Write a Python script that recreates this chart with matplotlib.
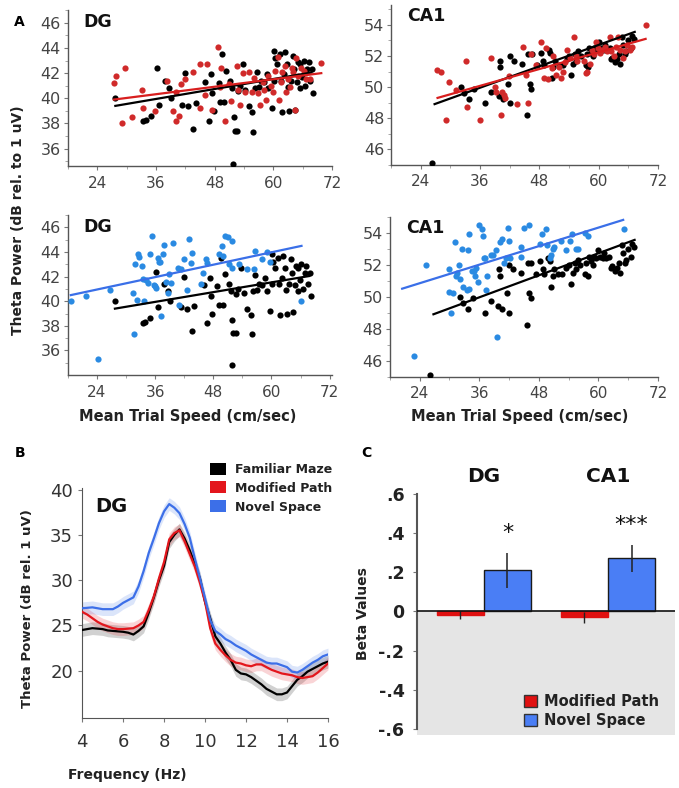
import matplotlib.pyplot as plt
from matplotlib.patches import Patch

# ---------------- Panel A: theta power vs mean trial speed ----------------
# familiar maze (black), shared by top and bottom rows
dg_fam_speed = [27.7, 33.4, 33.9, 35.0, 36.2, 36.6, 37.8, 38.6, 39.1, 41.3, 41.9, 42.5, 43.6, 44.1,
                46.1, 46.8, 47.3, 47.5, 47.8, 48.8, 49.1, 49.5, 50.0, 50.4, 51.2, 51.6, 51.9, 52.1,
                51.8, 52.6, 52.7, 53.1, 53.8, 54.3, 55.0, 55.7, 55.9, 56.2, 56.7, 57.1, 57.4, 58.0,
                58.7, 59.0, 59.7, 60.1, 60.2, 60.4, 60.7, 61.3, 61.6, 61.8, 62.1, 62.4, 62.7, 62.9,
                63.3, 63.6, 64.0, 64.3, 64.5, 64.8, 65.0, 65.4, 65.5, 65.9, 66.2, 66.5, 66.9, 67.2,
                67.5, 67.9, 68.1]
dg_fam_power = [40.0, 38.2, 38.3, 38.6, 42.4, 39.5, 41.4, 40.8, 40.0, 39.5, 42.0, 39.4, 37.6, 39.6,
                41.3, 38.2, 41.9, 40.4, 39.0, 41.2, 39.7, 43.5, 39.7, 42.2, 41.4, 40.8, 38.5, 37.4,
                34.8, 37.4, 40.6, 41.0, 42.7, 40.7, 39.4, 38.9, 37.3, 40.8, 42.1, 40.9, 41.4, 41.3,
                41.9, 40.8, 39.2, 43.8, 41.4, 43.2, 42.7, 43.5, 41.4, 38.9, 41.9, 43.7, 42.7, 40.9,
                39.0, 41.4, 43.4, 42.3, 39.1, 41.3, 42.9, 40.8, 42.7, 41.7, 43.0, 41.0, 42.3, 42.9,
                41.4, 42.3, 40.4]
dg_fam_fit = ([27.7, 67.8], [39.4, 42.05])

dg_mod_speed = [27.4, 27.9, 29.7, 29.1, 31.2, 33.1, 33.3, 35.8, 38.2, 39.4, 40.1, 40.8, 40.2, 41.1,
                41.9, 43.5, 45.0, 45.1, 46.0, 46.5, 47.5, 48.7, 49.1, 49.4, 50.2, 51.0, 51.4, 52.5,
                52.7, 53.2, 53.7, 54.3, 55.1, 55.6, 56.1, 56.8, 57.2, 57.8, 58.1, 58.5, 59.0, 59.5,
                60.0, 60.4, 60.9, 61.2, 61.6, 61.8, 62.4, 62.5, 63.1, 63.4, 63.8, 64.1, 64.5, 64.7,
                65.1, 65.7, 66.2, 66.6, 67.4, 69.8]
dg_mod_power = [41.2, 41.8, 42.4, 38.0, 38.5, 40.7, 39.2, 39.0, 41.4, 39.0, 38.2, 38.6, 40.5, 41.1,
                41.5, 42.1, 39.2, 42.7, 40.3, 42.7, 39.1, 44.1, 40.9, 42.4, 38.2, 41.1, 39.8, 42.6,
                40.7, 39.5, 42.0, 40.5, 42.1, 40.5, 41.6, 40.4, 39.5, 41.3, 40.7, 39.9, 41.8, 41.0,
                40.5, 42.2, 43.3, 39.9, 41.3, 42.1, 42.6, 40.5, 41.5, 40.9, 42.4, 42.1, 39.1, 43.2,
                41.8, 42.4, 42.2, 41.5, 41.5, 42.8]
dg_mod_fit = ([27.4, 69.8], [39.9, 42.0])

dg_nov_speed = [18.7, 21.8, 24.3, 26.7, 31.5, 31.6, 31.8, 32.3, 32.5, 32.7, 33.2, 33.4, 33.7, 34.2,
                34.5, 34.9, 35.4, 35.7, 35.9, 36.2, 36.6, 36.8, 37.1, 37.3, 37.7, 37.9, 38.3, 38.6,
                38.8, 39.3, 39.6, 40.7, 41.0, 41.3, 42.0, 42.5, 43.0, 43.4, 43.6, 45.4, 45.8, 46.4,
                46.8, 49.2, 49.7, 50.0, 50.5, 51.1, 51.3, 51.8, 51.9, 53.3, 55.0, 56.3, 56.7, 58.0,
                59.0, 59.7, 66.2]
dg_nov_power = [40.0, 40.4, 35.3, 40.9, 40.7, 37.3, 43.0, 40.1, 43.8, 43.6, 42.9, 41.8, 40.0, 41.7,
                41.5, 43.8, 45.3, 41.3, 41.2, 41.1, 43.5, 43.2, 43.2, 38.8, 43.8, 44.6, 41.6, 40.7,
                42.2, 41.5, 44.7, 42.7, 39.7, 42.6, 43.4, 40.9, 45.1, 43.1, 43.9, 41.4, 42.3, 43.4,
                43.1, 43.8, 44.5, 43.7, 45.3, 45.2, 43.0, 44.9, 42.7, 43.0, 42.6, 42.6, 44.1, 43.4,
                44.0, 43.2, 40.0]
dg_nov_fit = ([18.6, 66.2], [40.5, 44.5])

ca1_fam_speed = [26.2, 32.2, 32.8, 33.7, 34.7, 37.1, 38.3, 39.8, 40.1, 40.0, 40.7, 41.7, 42.0, 42.1,
                 42.9, 44.5, 45.6, 45.8, 46.1, 46.4, 46.5, 47.5, 48.3, 48.8, 49.0, 49.9, 50.2, 50.5,
                 50.8, 51.1, 51.9, 52.7, 53.5, 54.0, 54.5, 54.9, 55.2, 55.5, 55.9, 56.4, 57.4, 57.6,
                 57.9, 58.1, 58.5, 58.9, 59.1, 59.6, 60.0, 60.4, 60.9, 61.2, 61.5, 62.2, 62.5, 62.8,
                 63.3, 63.7, 64.2, 64.4, 64.7, 65.0, 65.3, 65.6, 66.0, 66.5, 66.7, 67.1]
ca1_fam_power = [45.1, 50.0, 49.6, 49.2, 49.9, 49.0, 49.7, 49.4, 51.3, 51.7, 49.2, 50.2, 52.0, 49.0,
                 51.7, 51.5, 48.2, 52.1, 50.2, 49.9, 52.1, 51.4, 52.2, 51.7, 51.4, 52.4, 52.2, 50.6,
                 51.3, 51.7, 51.4, 51.4, 51.8, 52.0, 50.8, 51.5, 52.1, 51.7, 52.3, 52.0, 51.4, 52.1,
                 51.3, 52.5, 52.2, 52.0, 52.5, 52.4, 52.9, 52.5, 52.4, 52.7, 52.4, 52.5, 51.8, 51.9,
                 51.6, 51.8, 52.1, 51.5, 53.2, 52.7, 52.1, 52.3, 53.0, 52.5, 53.3, 53.1]
ca1_fam_fit = ([26.8, 67.3], [48.9, 53.55])

ca1_mod_speed = [27.3, 28.0, 29.1, 29.8, 31.1, 33.2, 33.4, 35.9, 38.2, 39.0, 39.2, 40.2, 40.5, 40.8,
                 41.0, 41.8, 43.4, 44.7, 45.2, 45.8, 46.3, 47.4, 48.4, 48.9, 49.4, 49.8, 50.5, 50.8,
                 51.3, 52.0, 52.3, 52.7, 53.1, 53.5, 54.3, 55.0, 55.4, 55.7, 57.0, 57.5, 57.7, 58.2,
                 58.6, 59.1, 59.5, 59.9, 60.3, 60.7, 61.2, 61.7, 62.2, 62.6, 63.1, 63.6, 64.0, 64.4,
                 64.9, 65.4, 65.8, 66.3, 66.8, 69.5]
ca1_mod_power = [51.1, 51.0, 47.9, 50.3, 49.8, 51.7, 48.7, 47.9, 51.9, 50.0, 49.7, 48.2, 49.7, 49.5,
                 49.3, 50.7, 48.9, 52.6, 50.8, 49.0, 52.1, 51.4, 52.9, 50.6, 52.5, 50.5, 51.2, 52.0,
                 50.8, 51.3, 50.6, 51.0, 51.6, 52.4, 51.9, 53.2, 52.0, 51.7, 51.7, 50.9, 51.0, 51.5,
                 52.4, 52.1, 52.9, 52.5, 52.2, 52.4, 52.6, 52.3, 53.2, 52.3, 52.0, 52.6, 53.2, 52.4,
                 51.9, 52.3, 52.7, 52.4, 52.6, 54.0]
ca1_mod_fit = ([27.4, 69.5], [49.3, 53.1])

ca1_nov_speed = [22.9, 25.3, 29.9, 30.0, 30.3, 30.8, 31.1, 31.4, 31.6, 31.9, 32.2, 32.5, 32.8, 33.5,
                 33.7, 33.9, 33.9, 34.5, 34.9, 35.2, 35.4, 35.7, 36.0, 36.6, 36.8, 37.0, 37.2, 37.4,
                 37.6, 38.3, 38.8, 39.3, 39.6, 40.2, 40.6, 41.0, 41.5, 41.9, 42.0, 42.3, 44.5, 44.5,
                 45.1, 46.1, 48.3, 48.6, 49.4, 49.7, 50.2, 50.5, 50.8, 51.1, 52.4, 53.5, 54.3, 54.6,
                 55.5, 55.9, 57.4, 57.9, 65.2]
ca1_nov_power = [46.3, 52.0, 51.7, 50.3, 49.0, 50.2, 53.4, 51.3, 51.5, 52.0, 51.1, 53.0, 50.6, 50.4,
                 52.9, 50.5, 53.9, 51.6, 51.6, 51.3, 51.8, 50.9, 54.5, 54.2, 53.8, 52.4, 52.4, 50.4,
                 51.3, 52.6, 52.6, 52.9, 47.5, 53.4, 53.6, 52.1, 52.4, 54.3, 53.5, 52.4, 52.5, 53.1,
                 54.3, 54.5, 53.3, 53.9, 54.2, 53.2, 52.4, 52.6, 53.0, 53.1, 53.5, 52.9, 53.5, 53.9,
                 53.0, 53.0, 54.0, 53.8, 54.2]
ca1_nov_fit = ([20.5, 65.0], [50.5, 54.8])

# ---------------- Panel B: power spectra ----------------
freq = [4.0, 4.25, 4.5, 4.75, 5.0, 5.25, 5.5, 5.75, 6.0, 6.25, 6.5, 6.75, 7.0, 7.25, 7.5, 7.75,
        8.0, 8.25, 8.5, 8.75, 9.0, 9.25, 9.5, 9.75, 10.0, 10.25, 10.5, 10.75, 11.0, 11.25, 11.5,
        11.75, 12.0, 12.25, 12.5, 12.75, 13.0, 13.25, 13.5, 13.75, 14.0, 14.25, 14.5, 14.75, 15.0,
        15.25, 15.5, 15.75, 16.0]
spec_familiar = [24.5, 24.6, 24.7, 24.65, 24.6, 24.45, 24.4, 24.35, 24.3, 24.2, 24.0, 24.4, 24.9,
                 26.4, 28.1, 30.0, 31.6, 34.2, 35.0, 35.6, 34.6, 33.3, 31.8, 30.2, 27.6, 25.8, 23.8,
                 23.0, 22.0, 21.2, 20.1, 19.7, 19.6, 19.3, 18.9, 18.5, 18.0, 17.7, 17.4, 17.4, 17.6,
                 18.3, 19.0, 19.4, 19.9, 20.2, 20.5, 20.8, 21.0]
spec_modified = [26.5, 26.2, 25.8, 25.4, 25.1, 24.9, 24.7, 24.6, 24.6, 24.65, 24.7, 25.0, 25.4,
                 26.7, 28.2, 30.2, 32.0, 34.5, 35.2, 35.5, 34.3, 32.9, 31.5, 29.7, 27.6, 24.7, 23.0,
                 22.3, 21.7, 21.2, 20.9, 20.8, 20.6, 20.5, 20.7, 20.7, 20.4, 20.1, 19.9, 19.7, 19.6,
                 19.5, 19.3, 19.2, 19.3, 19.4, 19.8, 20.3, 20.8]
spec_novel = [26.9, 26.95, 27.0, 26.9, 26.8, 26.8, 26.8, 27.1, 27.5, 27.8, 28.1, 29.3, 31.0, 33.0,
              34.6, 36.3, 37.6, 38.4, 38.0, 37.4, 36.2, 34.7, 32.4, 30.2, 28.0, 25.6, 24.4, 24.0,
              23.5, 23.2, 22.8, 22.5, 22.2, 21.8, 21.5, 21.2, 20.9, 20.8, 20.8, 20.6, 20.4, 19.9,
              19.8, 20.1, 20.5, 20.9, 21.2, 21.6, 21.8]
spec_sem = [0.7, 0.7, 0.7]

# ---------------- Panel C: beta values ----------------
regions = ['DG', 'CA1']
beta_modified = [-0.02, -0.03]
beta_modified_err = [0.02, 0.028]
beta_novel = [0.21, 0.27]
beta_novel_err = [0.09, 0.07]
stars = ['*', '***']

BLACK = '#000000'
RED_DOT = '#d02a2a'
RED_LINE = '#d81e1e'
BLUE_DOT = '#2a8ae2'
BLUE_LINE = '#3a6fe8'
TICK_C = '#444444'

fig = plt.figure(figsize=(6.79, 7.88), dpi=100)


def scatter_panel(rect, title, xlim, ylim, yticks, series):
    ax = fig.add_axes(rect)
    for xs, ys, fit, dot_c, line_c in series:
        ax.scatter(xs, ys, s=20, color=dot_c, linewidths=0, zorder=3)
    for xs, ys, fit, dot_c, line_c in series:
        ax.plot(fit[0], fit[1], color=line_c, lw=1.6, zorder=4)
    ax.set_xlim(*xlim)
    ax.set_ylim(*ylim)
    ax.set_xticks([24, 36, 48, 60, 72])
    ax.set_xticks(range(18, 73, 6), minor=True)
    ax.set_yticks(yticks)
    ax.set_yticks(range(yticks[0] - 1, yticks[-1] + 2), minor=True)
    for s in ['top', 'right']:
        ax.spines[s].set_visible(False)
    for s in ['left', 'bottom']:
        ax.spines[s].set_color('#555555')
        ax.spines[s].set_linewidth(1.0)
    ax.tick_params(axis='both', which='major', length=3, color='#777777', labelcolor=TICK_C)
    ax.tick_params(axis='both', which='minor', length=2, color='#999999')
    ax.tick_params(axis='x', labelsize=11, pad=4)
    ax.tick_params(axis='y', labelsize=11.5, pad=2)
    ax.text(0.06, 0.985, title, transform=ax.transAxes, fontsize=12.5, fontweight='bold',
            va='top', ha='left', color='#111111')
    return ax


scatter_panel([0.100, 0.789, 0.389, 0.198], 'DG', (18, 72), (34.6, 46.8), [36, 38, 40, 42, 44, 46],
              [(dg_fam_speed, dg_fam_power, dg_fam_fit, BLACK, BLACK),
               (dg_mod_speed, dg_mod_power, dg_mod_fit, RED_DOT, RED_LINE)])
scatter_panel([0.576, 0.791, 0.393, 0.203], 'CA1', (22, 71.5), (45.2, 55.3), [46, 48, 50, 52, 54],
              [(ca1_fam_speed, ca1_fam_power, ca1_fam_fit, BLACK, BLACK),
               (ca1_mod_speed, ca1_mod_power, ca1_mod_fit, RED_DOT, RED_LINE)])
scatter_panel([0.100, 0.524, 0.389, 0.203], 'DG', (18, 72.5), (34.0, 46.6), [36, 38, 40, 42, 44, 46],
              [(dg_fam_speed, dg_fam_power, dg_fam_fit, BLACK, BLACK),
               (dg_nov_speed, dg_nov_power, dg_nov_fit, BLUE_DOT, BLUE_LINE)])
scatter_panel([0.574, 0.522, 0.395, 0.203], 'CA1', (20.6, 71.3), (45.1, 55.0), [46, 48, 50, 52, 54],
              [(ca1_fam_speed, ca1_fam_power, ca1_fam_fit, BLACK, BLACK),
               (ca1_nov_speed, ca1_nov_power, ca1_nov_fit, BLUE_DOT, BLUE_LINE)])

fig.text(0.027, 0.721, 'Theta Power (dB rel. to 1 uV)', rotation=90, ha='center', va='center',
         fontsize=10, fontweight='bold', color='#222222')
fig.text(0.276, 0.472, 'Mean Trial Speed (cm/sec)', ha='center', va='center',
         fontsize=10.5, fontweight='bold', color='#222222')
fig.text(0.766, 0.471, 'Mean Trial Speed (cm/sec)', ha='center', va='center',
         fontsize=10.5, fontweight='bold', color='#222222')

# ---------------- Panel B ----------------
axb = fig.add_axes([0.121, 0.089, 0.362, 0.292])
spec_series = [(spec_familiar, '#000000', 'Familiar Maze'),
               (spec_modified, '#e3161c', 'Modified Path'),
               (spec_novel, '#3c6fe8', 'Novel Space')]
for (vals, col, lab), sem in zip(spec_series, spec_sem):
    lo = [v - sem for v in vals]
    hi = [v + sem for v in vals]
    axb.fill_between(freq, lo, hi, color=col, alpha=0.18, linewidth=0, zorder=2)
for vals, col, lab in spec_series:
    axb.plot(freq, vals, color=col, lw=1.6, zorder=3)
axb.set_xlim(4, 16)
axb.set_ylim(14.8, 40.2)
axb.set_xticks([4, 6, 8, 10, 12, 14, 16])
axb.set_yticks([20, 25, 30, 35, 40])
for s in ['top', 'right']:
    axb.spines[s].set_visible(False)
for s in ['left', 'bottom']:
    axb.spines[s].set_color('#555555')
axb.tick_params(length=3, color='#777777', labelcolor='#333333', labelsize=13)
axb.tick_params(axis='x', pad=8)
axb.text(0.055, 0.92, 'DG', transform=axb.transAxes, fontsize=14, fontweight='bold',
         va='center', ha='left', color='#111111')
handles_b = [Patch(facecolor=col, edgecolor='none', label=lab) for vals, col, lab in spec_series]
leg_b = axb.legend(handles=handles_b, loc='upper left', bbox_to_anchor=(0.309, 0.413),
                   bbox_transform=fig.transFigure, frameon=False, fontsize=9,
                   handlelength=1.3, handleheight=1.1, labelspacing=0.45, handletextpad=0.7,
                   borderpad=0, borderaxespad=0)
for t in leg_b.get_texts():
    t.set_fontweight('bold')
    t.set_color('#222222')
fig.text(0.040, 0.228, 'Theta Power (dB rel. 1 uV)', rotation=90, ha='center', va='center',
         fontsize=9.5, fontweight='bold', color='#222222')
fig.text(0.187, 0.0165, 'Frequency (Hz)', ha='center', va='center',
         fontsize=10, fontweight='bold', color='#222222')

# ---------------- Panel C ----------------
axc = fig.add_axes([0.614, 0.067, 0.380, 0.309])
ylo, yhi = -0.63, 0.61
axc.axhspan(ylo, 0, color='#e5e5e5', zorder=0, linewidth=0)
w = 0.38
pos = list(range(len(regions)))
axc.bar([p - w / 2 for p in pos], beta_modified, width=w, color='#e01010', edgecolor='#e01010',
        zorder=2, label='Modified Path')
axc.bar([p + w / 2 for p in pos], beta_novel, width=w, color='#4a7ef5', edgecolor='#1a1a1a',
        linewidth=1.0, zorder=2, label='Novel Space')
axc.errorbar([p - w / 2 for p in pos], beta_modified, yerr=beta_modified_err, fmt='none',
             ecolor='#222222', elinewidth=1.0, capsize=0, zorder=3)
axc.errorbar([p + w / 2 for p in pos], beta_novel, yerr=beta_novel_err, fmt='none',
             ecolor='#222222', elinewidth=1.1, capsize=0, zorder=3)
axc.axhline(0, color='#111111', lw=1.2, zorder=4)
for p, st, b, e in zip(pos, stars, beta_novel, beta_novel_err):
    axc.text(p + w / 2, b + e + 0.05, st, ha='center', va='bottom', fontsize=16, color='#111111')
for p, name in zip(pos, regions):
    axc.text(p, 0.64, name, ha='center', va='bottom', fontsize=14.5, fontweight='bold',
             color='#111111')
axc.set_xlim(-0.54, 1.54)
axc.set_ylim(ylo, yhi)
axc.set_yticks([-0.6, -0.4, -0.2, 0, 0.2, 0.4, 0.6])
axc.set_yticklabels(['-.6', '-.4', '-.2', '0', '.2', '.4', '.6'], fontweight='bold')
axc.set_xticks([])
for s in ['top', 'right', 'bottom']:
    axc.spines[s].set_visible(False)
axc.spines['left'].set_bounds(-0.6, 0.6)
axc.spines['left'].set_color('#555555')
axc.spines['left'].set_linewidth(1.5)
axc.tick_params(axis='y', length=3, color='#777777', labelcolor='#222222', labelsize=12.5, pad=6)
axc.set_ylabel('Beta Values', fontsize=10, fontweight='bold', color='#222222', labelpad=6)
leg_c = axc.legend(loc='lower left', bbox_to_anchor=(0.415, 0.03), frameon=False, fontsize=10.5,
                   handlelength=0.9, handleheight=0.9, labelspacing=0.25, handletextpad=0.5,
                   borderpad=0, borderaxespad=0)
for h in leg_c.legend_handles:
    h.set_edgecolor('#333333')
    h.set_linewidth(1.0)
for t in leg_c.get_texts():
    t.set_fontweight('bold')
    t.set_color('#222222')

# panel letters
fig.text(0.029, 0.972, 'A', fontsize=10, fontweight='bold', ha='center', va='center')
fig.text(0.029, 0.425, 'B', fontsize=10, fontweight='bold', ha='center', va='center')
fig.text(0.540, 0.425, 'C', fontsize=10, fontweight='bold', ha='center', va='center')

fig.savefig('out.png', dpi=100)
